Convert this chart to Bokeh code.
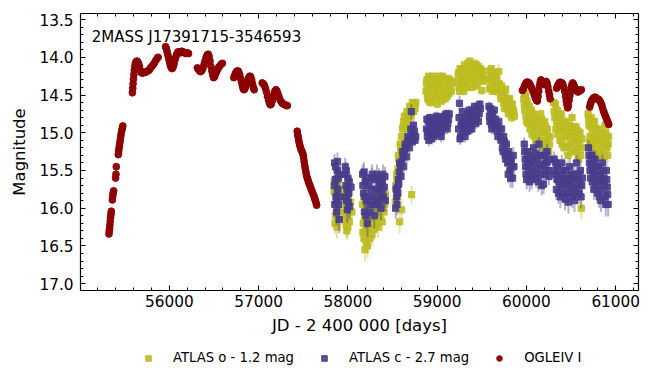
from bokeh.plotting import figure
from bokeh.layouts import column
from bokeh.models import (Range1d, LinearAxis, SingleIntervalTicker, PrintfTickFormatter,
                          Label, Legend, LegendItem, ColumnDataSource)
from bokeh.embed import file_html
from bokeh.resources import INLINE

# ---------------- data ----------------
title_text = "2MASS J17391715-3546593"
series_labels = ["ATLAS o - 1.2 mag", "ATLAS c - 2.7 mag", "OGLEIV I"]
x_label = "JD - 2 400 000 [days]"
y_label = "Magnitude"

# OGLE-IV I band (JD-2400000, mag)
ogle = [
    (55324, 16.34), (55327, 16.30), (55331, 16.27), (55334, 16.22), (55338, 16.17), (55342, 16.12),
    (55346, 16.08), (55350, 16.04), (55362, 15.89), (55366, 15.84), (55371, 15.80), (55376, 15.77),
    (55398, 15.60), (55402, 15.55), (55406, 15.45), (55428, 15.29), (55432, 15.25), (55436, 15.21),
    (55441, 15.17), (55446, 15.13), (55451, 15.09), (55456, 15.05), (55461, 15.01), (55467, 14.97),
    (55473, 14.94), (55479, 14.91),
    (55586, 14.47), (55590, 14.41), (55594, 14.35), (55598, 14.29), (55603, 14.23), (55608, 14.17),
    (55614, 14.12), (55620, 14.08), (55628, 14.06), (55636, 14.05), (55645, 14.06), (55655, 14.08),
    (55665, 14.12), (55675, 14.17), (55685, 14.20), (55700, 14.21), (55715, 14.20), (55730, 14.20),
    (55745, 14.19), (55760, 14.18), (55775, 14.17), (55790, 14.14), (55805, 14.12), (55820, 14.10),
    (55835, 14.07), (55850, 14.04), (55865, 14.01), (55875, 14.00),
    (55958, 13.86), (55965, 13.88), (55972, 13.91), (55980, 13.95), (55988, 13.99), (55996, 14.03),
    (56004, 14.07), (56012, 14.11), (56022, 14.14), (56032, 14.15), (56042, 14.13), (56052, 14.09),
    (56062, 14.04), (56072, 14.00), (56082, 13.96), (56095, 13.93), (56110, 13.93), (56125, 13.94),
    (56140, 13.92), (56155, 13.93), (56170, 13.94), (56185, 13.95), (56200, 13.94), (56215, 13.95),
    (56314, 14.14), (56325, 14.16), (56337, 14.18), (56350, 14.19), (56362, 14.18), (56375, 14.15),
    (56388, 14.10), (56400, 14.05), (56412, 14.00), (56424, 13.97), (56436, 13.96), (56446, 13.99),
    (56456, 14.05), (56466, 14.12), (56476, 14.18), (56486, 14.23), (56496, 14.27), (56506, 14.26),
    (56518, 14.22), (56530, 14.19), (56542, 14.16), (56555, 14.13), (56568, 14.11), (56582, 14.09),
    (56594, 14.08),
    (56722, 14.27), (56732, 14.24), (56742, 14.21), (56752, 14.19), (56764, 14.18), (56776, 14.19),
    (56788, 14.23), (56798, 14.28), (56808, 14.33), (56818, 14.38), (56828, 14.42), (56838, 14.43),
    (56848, 14.41), (56858, 14.38), (56868, 14.34), (56878, 14.30), (56890, 14.27), (56902, 14.25),
    (56912, 14.26), (56922, 14.30), (56932, 14.35), (56942, 14.40), (56950, 14.43),
    (57040, 14.34), (57052, 14.35), (57064, 14.37), (57076, 14.41), (57088, 14.46), (57100, 14.52),
    (57112, 14.57), (57122, 14.61), (57132, 14.63), (57142, 14.62), (57152, 14.58), (57162, 14.53),
    (57172, 14.49), (57182, 14.45), (57194, 14.43), (57206, 14.45), (57218, 14.49), (57230, 14.53),
    (57242, 14.57), (57254, 14.59), (57266, 14.61), (57280, 14.62), (57295, 14.63), (57310, 14.64),
    (57322, 14.64),
    (57432, 14.98), (57437, 15.02), (57442, 15.05), (57448, 15.09), (57454, 15.13), (57460, 15.16),
    (57467, 15.19), (57474, 15.22), (57482, 15.24), (57490, 15.26), (57498, 15.29), (57504, 15.33),
    (57510, 15.38), (57516, 15.43), (57522, 15.47), (57528, 15.51), (57534, 15.55), (57540, 15.58),
    (57548, 15.61), (57556, 15.64), (57564, 15.67), (57572, 15.69), (57580, 15.72), (57590, 15.75),
    (57600, 15.78), (57610, 15.81), (57620, 15.84), (57628, 15.87), (57636, 15.90), (57644, 15.93),
    (57650, 15.96),
    (59955, 14.44), (59965, 14.42), (59978, 14.38), (59991, 14.35), (60004, 14.33), (60016, 14.33),
    (60028, 14.34), (60040, 14.36), (60052, 14.39), (60064, 14.42), (60076, 14.46), (60088, 14.50),
    (60100, 14.54), (60112, 14.57), (60122, 14.58), (60130, 14.52), (60138, 14.45), (60146, 14.38),
    (60154, 14.33), (60162, 14.30), (60170, 14.31), (60180, 14.34), (60190, 14.36), (60200, 14.35),
    (60210, 14.33), (60220, 14.32), (60230, 14.34), (60240, 14.39), (60250, 14.45), (60258, 14.50),
    (60265, 14.55),
    (60338, 14.41), (60348, 14.38), (60358, 14.36), (60368, 14.34), (60378, 14.33), (60388, 14.35),
    (60398, 14.34), (60408, 14.36), (60418, 14.40), (60428, 14.45), (60438, 14.52), (60446, 14.58),
    (60454, 14.63), (60462, 14.67), (60470, 14.64), (60478, 14.57), (60486, 14.51), (60494, 14.46),
    (60502, 14.40), (60510, 14.36), (60518, 14.34), (60528, 14.36), (60538, 14.39), (60548, 14.41),
    (60558, 14.43), (60568, 14.45), (60578, 14.46), (60590, 14.45), (60602, 14.44), (60615, 14.43),
    (60708, 14.66), (60716, 14.62), (60724, 14.59), (60732, 14.57), (60742, 14.55), (60752, 14.54),
    (60762, 14.53), (60772, 14.53), (60782, 14.54), (60792, 14.55), (60802, 14.56), (60812, 14.56),
    (60822, 14.58), (60832, 14.60), (60842, 14.63), (60852, 14.67), (60862, 14.71), (60872, 14.74),
    (60882, 14.77), (60892, 14.80), (60902, 14.83), (60912, 14.86), (60922, 14.89),
]

# ATLAS o (shifted by -1.2 mag): (JD-2400000, mag, error)
atlas_o = [
    (57845, 15.78, 0.10), (57852, 15.95, 0.12), (57860, 16.10, 0.15), (57868, 15.70, 0.08),
    (57875, 16.00, 0.12), (57882, 15.88, 0.10), (57890, 16.15, 0.14), (57898, 15.62, 0.09),
    (57905, 16.05, 0.11), (57915, 15.85, 0.10), (57935, 15.75, 0.08), (57960, 15.90, 0.12),
    (57972, 16.08, 0.13), (57980, 16.22, 0.15), (57988, 16.30, 0.12), (57995, 16.12, 0.10),
    (58005, 15.98, 0.09), (58015, 16.18, 0.14), (58030, 15.92, 0.10), (58045, 16.05, 0.12),
    (57848, 15.65, 0.09), (57856, 16.20, 0.14), (57864, 15.80, 0.10), (57878, 16.25, 0.15),
    (57886, 15.72, 0.09), (57894, 16.00, 0.12), (57965, 16.15, 0.13), (57975, 15.95, 0.11),
    (57984, 16.05, 0.12), (57992, 15.85, 0.10), (58000, 16.25, 0.14), (58010, 15.80, 0.09),
    (58165, 15.95, 0.10), (58172, 16.20, 0.14), (58180, 16.40, 0.16), (58188, 16.05, 0.11),
    (58195, 16.30, 0.13), (58205, 16.45, 0.15), (58215, 16.15, 0.12), (58225, 15.90, 0.09),
    (58240, 16.25, 0.14), (58255, 16.10, 0.11), (58270, 16.35, 0.15), (58285, 15.85, 0.09),
    (58300, 16.00, 0.10), (58315, 16.20, 0.13), (58330, 15.78, 0.08), (58345, 15.95, 0.10),
    (58360, 16.12, 0.12), (58375, 15.70, 0.08), (58390, 15.88, 0.10), (58405, 16.05, 0.12),
    (58420, 15.82, 0.09),
    (58168, 16.32, 0.14), (58176, 15.85, 0.10), (58184, 16.15, 0.13), (58192, 16.55, 0.16),
    (58200, 16.02, 0.11), (58210, 16.30, 0.14), (58220, 16.50, 0.16), (58230, 16.05, 0.12),
    (58248, 16.40, 0.15), (58262, 15.95, 0.10), (58278, 16.15, 0.13), (58292, 16.28, 0.14),
    (58308, 15.92, 0.10), (58322, 16.08, 0.12), (58338, 16.25, 0.14), (58352, 15.85, 0.10),
    (58368, 16.00, 0.12), (58383, 16.18, 0.13), (58398, 15.75, 0.09), (58412, 15.95, 0.11),
    (58530, 15.92, 0.10), (58540, 15.75, 0.09), (58550, 15.62, 0.08), (58560, 15.48, 0.08),
    (58570, 15.35, 0.07), (58580, 16.18, 0.15), (58590, 15.20, 0.07), (58600, 15.05, 0.06),
    (58602, 16.02, 0.14), (58612, 14.95, 0.06), (58625, 14.85, 0.06), (58640, 15.10, 0.07),
    (58655, 14.95, 0.06), (58670, 14.82, 0.05), (58685, 14.75, 0.05), (58700, 14.70, 0.05),
    (58714, 15.82, 0.12), (58730, 14.68, 0.05), (58745, 14.62, 0.05), (58760, 14.60, 0.06),
    (58535, 15.70, 0.09), (58545, 15.55, 0.08), (58555, 15.85, 0.10), (58565, 15.30, 0.07),
    (58575, 15.55, 0.08), (58585, 15.15, 0.07), (58595, 15.40, 0.08), (58608, 15.20, 0.07),
    (58618, 14.92, 0.06), (58632, 14.78, 0.06), (58648, 14.90, 0.06), (58662, 14.72, 0.05),
    (58678, 14.85, 0.06), (58692, 14.65, 0.05), (58708, 14.78, 0.06), (58722, 14.60, 0.05),
    (58738, 14.72, 0.06), (58752, 14.68, 0.06),
    (58875, 14.45, 0.05), (58885, 14.30, 0.04), (58895, 14.55, 0.06), (58905, 14.25, 0.04),
    (58915, 14.40, 0.05), (58925, 14.60, 0.06), (58940, 14.35, 0.05), (58955, 14.50, 0.05),
    (58970, 14.28, 0.04), (58985, 14.45, 0.05), (59000, 14.62, 0.06), (59015, 14.38, 0.05),
    (59030, 14.52, 0.05), (59045, 14.30, 0.04), (59060, 14.25, 0.04), (59075, 14.42, 0.05),
    (59090, 14.55, 0.06), (59105, 14.35, 0.05), (59120, 14.28, 0.04), (59135, 14.48, 0.05),
    (59150, 14.40, 0.05), (59165, 14.32, 0.05),
    (58880, 14.35, 0.05), (58890, 14.50, 0.05), (58900, 14.40, 0.05), (58910, 14.58, 0.06),
    (58920, 14.28, 0.04), (58932, 14.45, 0.05), (58948, 14.25, 0.04), (58962, 14.40, 0.05),
    (58978, 14.55, 0.06), (58992, 14.35, 0.05), (59008, 14.48, 0.05), (59022, 14.25, 0.04),
    (59038, 14.42, 0.05), (59052, 14.58, 0.06), (59068, 14.35, 0.05), (59082, 14.30, 0.05),
    (59098, 14.45, 0.05), (59112, 14.52, 0.05), (59128, 14.38, 0.05), (59142, 14.30, 0.05),
    (59158, 14.45, 0.05),
    (59230, 14.35, 0.05), (59240, 14.20, 0.04), (59250, 14.45, 0.06), (59262, 14.28, 0.05),
    (59275, 14.15, 0.04), (59290, 14.35, 0.05), (59305, 14.10, 0.04), (59320, 14.25, 0.05),
    (59335, 14.40, 0.05), (59350, 14.18, 0.12), (59365, 14.05, 0.04), (59380, 14.30, 0.05),
    (59395, 14.12, 0.04), (59410, 14.22, 0.05), (59425, 14.38, 0.05), (59440, 14.10, 0.04),
    (59455, 14.20, 0.05), (59470, 14.28, 0.05), (59485, 14.15, 0.04), (59500, 14.44, 0.06),
    (59515, 14.25, 0.05),
    (59235, 14.25, 0.05), (59245, 14.40, 0.05), (59256, 14.15, 0.04), (59268, 14.38, 0.05),
    (59282, 14.25, 0.05), (59298, 14.45, 0.06), (59312, 14.18, 0.05), (59328, 14.32, 0.05),
    (59342, 14.08, 0.04), (59358, 14.28, 0.05), (59372, 14.15, 0.04), (59388, 14.40, 0.05),
    (59402, 14.25, 0.05), (59418, 14.08, 0.04), (59432, 14.28, 0.05), (59448, 14.35, 0.05),
    (59462, 14.12, 0.04), (59478, 14.22, 0.05), (59492, 14.30, 0.05), (59508, 14.18, 0.05),
    (59520, 14.32, 0.05),
    (59580, 14.30, 0.05), (59590, 14.18, 0.04), (59600, 14.40, 0.05), (59612, 14.25, 0.05),
    (59625, 14.35, 0.05), (59640, 14.20, 0.04), (59655, 14.45, 0.06), (59670, 14.30, 0.05),
    (59690, 14.19, 0.10), (59700, 14.40, 0.05), (59715, 14.55, 0.06), (59730, 14.45, 0.05),
    (59745, 14.60, 0.06), (59760, 14.50, 0.05), (59775, 14.65, 0.06), (59790, 14.55, 0.05),
    (59805, 14.72, 0.07), (59820, 14.62, 0.06), (59835, 14.80, 0.07), (59850, 14.70, 0.06),
    (59865, 14.78, 0.07),
    (59585, 14.42, 0.05), (59595, 14.28, 0.05), (59606, 14.15, 0.04), (59618, 14.45, 0.05),
    (59632, 14.28, 0.05), (59648, 14.38, 0.05), (59662, 14.22, 0.05), (59678, 14.42, 0.05),
    (59695, 14.35, 0.05), (59708, 14.50, 0.05), (59722, 14.38, 0.05), (59738, 14.52, 0.06),
    (59752, 14.68, 0.06), (59768, 14.42, 0.05), (59782, 14.60, 0.06), (59798, 14.75, 0.07),
    (59812, 14.55, 0.06), (59828, 14.70, 0.06), (59842, 14.62, 0.06), (59858, 14.72, 0.07),
    (59970, 14.55, 0.06), (59980, 14.70, 0.06), (59990, 14.50, 0.05), (60000, 14.85, 0.07),
    (60012, 14.62, 0.06), (60025, 14.78, 0.06), (60040, 14.95, 0.08), (60055, 14.70, 0.06),
    (60070, 14.88, 0.07), (60085, 15.05, 0.08), (60100, 14.80, 0.07), (60115, 14.95, 0.08),
    (60130, 15.15, 0.09), (60145, 14.90, 0.07), (60160, 14.75, 0.06), (60175, 15.00, 0.08),
    (60190, 15.20, 0.09), (60205, 14.85, 0.07), (60220, 15.10, 0.08), (60235, 14.95, 0.07),
    (60250, 15.25, 0.09), (60265, 15.05, 0.08),
    (59975, 14.62, 0.06), (59985, 14.48, 0.05), (59995, 14.78, 0.06), (60005, 14.58, 0.06),
    (60018, 14.88, 0.07), (60032, 14.65, 0.06), (60048, 14.82, 0.07), (60062, 15.02, 0.08),
    (60078, 14.75, 0.07), (60092, 14.92, 0.07), (60108, 15.10, 0.08), (60122, 14.85, 0.07),
    (60138, 15.05, 0.08), (60152, 14.95, 0.08), (60168, 14.82, 0.07), (60182, 15.12, 0.09),
    (60198, 14.98, 0.08), (60212, 14.92, 0.07), (60228, 15.18, 0.09), (60242, 15.05, 0.08),
    (60258, 15.15, 0.09),
    (60305, 14.60, 0.06), (60318, 14.80, 0.07), (60330, 14.95, 0.08), (60345, 14.70, 0.06),
    (60360, 14.88, 0.07), (60375, 15.10, 0.08), (60390, 14.75, 0.06), (60405, 14.95, 0.07),
    (60420, 15.20, 0.09), (60435, 14.85, 0.07), (60450, 15.05, 0.08), (60465, 15.30, 0.10),
    (60480, 14.90, 0.07), (60495, 15.15, 0.08), (60510, 14.80, 0.07), (60525, 15.00, 0.08),
    (60540, 15.25, 0.09), (60555, 14.92, 0.07), (60570, 15.10, 0.08), (60585, 15.35, 0.10),
    (60600, 15.00, 0.08), (60615, 16.00, 0.15), (60630, 15.20, 0.09),
    (60310, 14.72, 0.06), (60324, 14.62, 0.06), (60338, 14.85, 0.07), (60352, 15.02, 0.08),
    (60368, 14.78, 0.07), (60382, 14.95, 0.07), (60398, 15.15, 0.08), (60412, 14.85, 0.07),
    (60428, 15.05, 0.08), (60442, 14.95, 0.07), (60458, 15.18, 0.09), (60472, 15.05, 0.08),
    (60488, 14.98, 0.08), (60502, 15.25, 0.09), (60518, 14.92, 0.07), (60532, 15.12, 0.08),
    (60548, 15.05, 0.08), (60562, 15.22, 0.09), (60578, 14.98, 0.08), (60592, 15.15, 0.09),
    (60608, 15.30, 0.10), (60622, 15.08, 0.09),
    (60690, 14.75, 0.06), (60700, 14.90, 0.07), (60712, 15.05, 0.08), (60725, 14.80, 0.07),
    (60738, 15.00, 0.08), (60750, 15.20, 0.09), (60762, 14.85, 0.07), (60775, 15.05, 0.08),
    (60790, 15.25, 0.09), (60805, 14.95, 0.07), (60820, 15.15, 0.08), (60835, 15.30, 0.10),
    (60850, 15.00, 0.08), (60865, 15.20, 0.09), (60880, 14.90, 0.07), (60895, 15.10, 0.08),
    (60910, 15.30, 0.10), (60920, 15.05, 0.08),
    (60695, 14.82, 0.07), (60706, 15.12, 0.08), (60718, 14.92, 0.07), (60732, 15.15, 0.08),
    (60744, 14.88, 0.07), (60756, 15.08, 0.08), (60770, 15.30, 0.10), (60782, 14.95, 0.07),
    (60798, 15.10, 0.08), (60812, 15.28, 0.10), (60828, 15.05, 0.08), (60842, 15.22, 0.09),
    (60858, 15.10, 0.08), (60872, 15.32, 0.10), (60888, 15.00, 0.08), (60902, 15.20, 0.09),
    (60915, 15.15, 0.09),
]

# ATLAS c (shifted by -2.7 mag): (JD-2400000, mag, error)
atlas_c = [
    (57850, 15.40, 0.12), (57858, 15.62, 0.14), (57866, 15.85, 0.16), (57872, 16.05, 0.18),
    (57880, 15.50, 0.12), (57888, 15.75, 0.15), (57895, 15.95, 0.17), (57903, 16.15, 0.18),
    (57912, 15.55, 0.13), (57970, 15.45, 0.12), (57978, 15.70, 0.14), (57985, 15.90, 0.16),
    (57993, 16.02, 0.17), (58000, 15.60, 0.13), (58010, 15.80, 0.15), (58020, 15.98, 0.16),
    (58035, 15.72, 0.14),
    (57847, 15.70, 0.14), (57855, 15.95, 0.17), (57862, 15.45, 0.12), (57876, 15.90, 0.16),
    (57884, 15.38, 0.12), (57892, 15.60, 0.14), (57900, 15.85, 0.16), (57966, 15.55, 0.13),
    (57974, 15.85, 0.15), (57982, 15.50, 0.12), (57990, 15.75, 0.14), (58005, 15.92, 0.16),
    (58015, 15.65, 0.14),
    (58165, 15.55, 0.13), (58175, 15.80, 0.15), (58185, 16.05, 0.18), (58195, 15.65, 0.14),
    (58208, 15.90, 0.16), (58220, 16.20, 0.18), (58235, 15.70, 0.14), (58250, 15.95, 0.16),
    (58265, 15.60, 0.13), (58280, 15.85, 0.15), (58295, 16.10, 0.17), (58310, 15.75, 0.14),
    (58325, 15.55, 0.13), (58340, 15.95, 0.16), (58355, 15.70, 0.14), (58370, 16.00, 0.16),
    (58385, 15.65, 0.14), (58400, 15.85, 0.15), (58415, 15.58, 0.13),
    (58168, 15.70, 0.14), (58180, 15.52, 0.13), (58190, 15.85, 0.15), (58202, 16.10, 0.17),
    (58214, 15.60, 0.13), (58228, 15.85, 0.15), (58242, 16.05, 0.17), (58258, 15.75, 0.14),
    (58272, 15.55, 0.13), (58288, 15.95, 0.16), (58302, 15.62, 0.13), (58318, 15.90, 0.15),
    (58332, 15.75, 0.14), (58348, 15.60, 0.13), (58362, 15.85, 0.15), (58378, 15.75, 0.14),
    (58392, 15.55, 0.13), (58408, 15.72, 0.14), (58420, 15.90, 0.15),
    (58535, 16.00, 0.14), (58545, 15.85, 0.13), (58555, 15.72, 0.12), (58565, 15.62, 0.11),
    (58575, 15.52, 0.10), (58590, 15.45, 0.10), (58605, 15.38, 0.09), (58620, 15.30, 0.09),
    (58635, 15.25, 0.08), (58650, 15.20, 0.08), (58665, 15.15, 0.08), (58680, 15.10, 0.07),
    (58700, 15.05, 0.07), (58710, 14.72, 0.10), (58725, 15.02, 0.07), (58745, 14.98, 0.07),
    (58760, 15.05, 0.07),
    (58540, 15.75, 0.13), (58550, 15.95, 0.14), (58560, 15.80, 0.12), (58570, 15.68, 0.11),
    (58580, 15.40, 0.10), (58595, 15.58, 0.11), (58610, 15.25, 0.09), (58625, 15.45, 0.10),
    (58642, 15.15, 0.08), (58658, 15.32, 0.09), (58672, 15.05, 0.07), (58690, 15.20, 0.08),
    (58705, 14.95, 0.07), (58718, 15.12, 0.08), (58735, 14.90, 0.07), (58752, 15.10, 0.08),
    (58880, 14.95, 0.07), (58890, 15.05, 0.08), (58900, 14.85, 0.06), (58912, 15.00, 0.07),
    (58925, 14.90, 0.07), (58940, 15.08, 0.08), (58955, 14.95, 0.07), (58970, 14.82, 0.06),
    (58985, 15.00, 0.07), (59000, 14.90, 0.07), (59015, 14.80, 0.06), (59030, 14.95, 0.07),
    (59045, 15.05, 0.08), (59060, 14.85, 0.06), (59075, 14.78, 0.06), (59090, 14.92, 0.07),
    (59105, 14.80, 0.06), (59120, 14.88, 0.07), (59135, 14.75, 0.06),
    (58885, 14.82, 0.06), (58895, 14.98, 0.07), (58906, 15.10, 0.08), (58918, 14.80, 0.06),
    (58932, 14.97, 0.07), (58948, 14.85, 0.06), (58962, 15.05, 0.08), (58978, 14.92, 0.07),
    (58992, 14.78, 0.06), (59008, 15.02, 0.07), (59022, 14.88, 0.07), (59038, 14.82, 0.06),
    (59052, 14.98, 0.07), (59068, 14.92, 0.07), (59082, 14.85, 0.06), (59098, 14.75, 0.06),
    (59112, 14.95, 0.07), (59128, 14.82, 0.06),
    (59240, 14.95, 0.07), (59250, 14.61, 0.10), (59262, 15.05, 0.08), (59275, 14.85, 0.06),
    (59290, 15.00, 0.07), (59305, 14.80, 0.06), (59320, 14.92, 0.07), (59335, 14.75, 0.06),
    (59350, 14.88, 0.07), (59365, 14.95, 0.07), (59380, 14.78, 0.06), (59395, 14.70, 0.06),
    (59410, 14.85, 0.06), (59425, 14.72, 0.06), (59440, 14.80, 0.06), (59455, 14.65, 0.05),
    (59470, 14.75, 0.06), (59485, 14.68, 0.06),
    (59245, 14.80, 0.06), (59256, 15.08, 0.08), (59268, 14.90, 0.07), (59282, 14.72, 0.06),
    (59298, 14.95, 0.07), (59312, 15.05, 0.08), (59328, 14.82, 0.06), (59342, 14.98, 0.07),
    (59358, 14.70, 0.06), (59372, 14.85, 0.06), (59388, 14.95, 0.07), (59402, 14.78, 0.06),
    (59418, 14.65, 0.05), (59432, 14.88, 0.07), (59448, 14.72, 0.06), (59462, 14.85, 0.06),
    (59478, 14.62, 0.05),
    (59580, 14.65, 0.06), (59590, 14.85, 0.07), (59600, 14.72, 0.06), (59612, 14.95, 0.07),
    (59625, 14.80, 0.06), (59640, 14.70, 0.06), (59660, 14.90, 0.07), (59680, 15.05, 0.08),
    (59700, 14.95, 0.07), (59715, 15.10, 0.08), (59730, 15.20, 0.09), (59745, 15.05, 0.08),
    (59760, 15.30, 0.10), (59775, 15.15, 0.09), (59790, 15.40, 0.11), (59800, 15.25, 0.10),
    (59815, 15.50, 0.12), (59830, 15.35, 0.11), (59845, 15.60, 0.13), (59860, 15.45, 0.12),
    (59585, 14.78, 0.06), (59595, 14.68, 0.06), (59606, 14.88, 0.07), (59618, 14.75, 0.06),
    (59632, 14.92, 0.07), (59650, 14.82, 0.06), (59670, 14.98, 0.07), (59690, 14.85, 0.07),
    (59708, 15.05, 0.08), (59722, 14.95, 0.08), (59738, 15.25, 0.09), (59752, 15.12, 0.09),
    (59768, 15.35, 0.10), (59782, 15.28, 0.10), (59795, 15.55, 0.12), (59808, 15.38, 0.11),
    (59822, 15.60, 0.13), (59838, 15.45, 0.12), (59852, 15.30, 0.11),
    (59975, 15.15, 0.09), (59985, 15.35, 0.10), (59995, 15.55, 0.12), (60008, 15.25, 0.10),
    (60020, 15.45, 0.11), (60035, 15.65, 0.13), (60050, 15.30, 0.10), (60065, 15.50, 0.12),
    (60080, 15.20, 0.09), (60095, 15.40, 0.11), (60110, 15.60, 0.13), (60125, 15.35, 0.10),
    (60140, 15.15, 0.09), (60155, 15.45, 0.11), (60170, 15.70, 0.13), (60185, 15.30, 0.10),
    (60200, 15.55, 0.12), (60215, 15.40, 0.11), (60230, 15.25, 0.10), (60245, 15.50, 0.12),
    (60260, 15.35, 0.10),
    (59980, 15.25, 0.10), (59990, 15.45, 0.11), (60002, 15.62, 0.13), (60014, 15.35, 0.10),
    (60028, 15.55, 0.12), (60042, 15.40, 0.11), (60058, 15.62, 0.13), (60072, 15.35, 0.10),
    (60088, 15.55, 0.12), (60102, 15.28, 0.10), (60118, 15.48, 0.11), (60132, 15.65, 0.13),
    (60148, 15.30, 0.10), (60162, 15.55, 0.12), (60178, 15.42, 0.11), (60192, 15.68, 0.13),
    (60208, 15.30, 0.10), (60222, 15.50, 0.12), (60238, 15.38, 0.11), (60252, 15.58, 0.12),
    (60310, 15.35, 0.10), (60322, 15.55, 0.12), (60335, 15.75, 0.14), (60350, 15.45, 0.11),
    (60365, 15.65, 0.13), (60380, 15.85, 0.15), (60395, 15.40, 0.11), (60410, 15.60, 0.12),
    (60425, 15.80, 0.14), (60440, 15.50, 0.12), (60455, 15.70, 0.13), (60470, 15.92, 0.15),
    (60485, 15.45, 0.11), (60500, 15.65, 0.13), (60515, 15.85, 0.15), (60530, 15.55, 0.12),
    (60545, 15.75, 0.14), (60560, 15.40, 0.11), (60575, 15.62, 0.13), (60590, 15.80, 0.14),
    (60605, 15.50, 0.12), (60620, 15.70, 0.13),
    (60315, 15.50, 0.12), (60328, 15.40, 0.11), (60342, 15.62, 0.13), (60358, 15.80, 0.14),
    (60372, 15.55, 0.12), (60388, 15.72, 0.14), (60402, 15.50, 0.12), (60418, 15.68, 0.13),
    (60432, 15.88, 0.15), (60448, 15.60, 0.12), (60462, 15.80, 0.14), (60478, 15.60, 0.12),
    (60492, 15.78, 0.14), (60508, 15.55, 0.12), (60522, 15.72, 0.14), (60538, 15.90, 0.15),
    (60552, 15.62, 0.13), (60568, 15.80, 0.14), (60582, 15.55, 0.12), (60598, 15.68, 0.13),
    (60612, 15.85, 0.15), (60628, 15.60, 0.13),
    (60695, 15.20, 0.10), (60705, 15.40, 0.11), (60718, 15.60, 0.13), (60730, 15.30, 0.10),
    (60742, 15.50, 0.12), (60755, 15.75, 0.14), (60768, 15.35, 0.11), (60780, 15.55, 0.12),
    (60795, 15.80, 0.14), (60808, 15.45, 0.11), (60822, 15.65, 0.13), (60835, 15.90, 0.15),
    (60850, 15.40, 0.11), (60865, 15.60, 0.13), (60880, 15.85, 0.15), (60895, 15.50, 0.12),
    (60905, 15.72, 0.14), (60915, 15.95, 0.16),
    (60700, 15.30, 0.10), (60712, 15.50, 0.12), (60724, 15.42, 0.11), (60736, 15.65, 0.13),
    (60748, 15.35, 0.11), (60762, 15.55, 0.12), (60774, 15.70, 0.13), (60788, 15.45, 0.11),
    (60802, 15.65, 0.13), (60815, 15.85, 0.15), (60828, 15.55, 0.12), (60842, 15.75, 0.14),
    (60858, 15.50, 0.12), (60872, 15.70, 0.13), (60888, 15.95, 0.16), (60900, 15.62, 0.13),
    (60910, 15.82, 0.15),
]

color_o = "#bcbd22"
color_c = "#483d8b"
color_ogle = "#8b0000"
FONT = "DejaVu Sans"


def err_source(rows):
    jd = [r[0] for r in rows]
    mag = [r[1] for r in rows]
    lo = [r[1] - r[2] for r in rows]
    hi = [r[1] + r[2] for r in rows]
    return ColumnDataSource(dict(jd=jd, mag=mag, lo=lo, hi=hi))


p = figure(width=653, height=340, output_backend="svg", toolbar_location=None,
           x_range=Range1d(55005, 61255), y_range=Range1d(17.09, 13.42),
           min_border_left=80, min_border_right=15, min_border_top=13, min_border_bottom=50,
           x_axis_label=x_label, y_axis_label=y_label)
p.xgrid.visible = False
p.ygrid.visible = False
p.outline_line_color = "black"
p.outline_line_width = 1.1
p.background_fill_color = "white"
p.border_fill_color = "white"

bottom_axis = p.below[0]
left_axis = p.left[0]

xt = SingleIntervalTicker(interval=1000, num_minor_ticks=5)
yt = SingleIntervalTicker(interval=0.5, num_minor_ticks=5)
bottom_axis.ticker = xt
left_axis.ticker = yt
bottom_axis.formatter = PrintfTickFormatter(format="%d")
left_axis.formatter = PrintfTickFormatter(format="%.1f")

# mirrored tick marks on top and right (no labels drawn)
top_axis = LinearAxis(ticker=xt, major_label_text_font_size="0px", major_label_standoff=0,
                      major_label_text_color=None)
right_axis = LinearAxis(ticker=yt, major_label_text_font_size="0px", major_label_standoff=0,
                        major_label_text_color=None)
p.add_layout(top_axis, "above")
p.add_layout(right_axis, "right")

for ax in [bottom_axis, left_axis, top_axis, right_axis]:
    ax.major_tick_in = 5
    ax.major_tick_out = 0
    ax.minor_tick_in = 3
    ax.minor_tick_out = 0
    ax.axis_line_width = 1.1
    ax.major_tick_line_width = 1.1
    ax.minor_tick_line_width = 1.0
    ax.axis_line_color = "black"
    ax.major_tick_line_color = "black"
    ax.minor_tick_line_color = "black"

for ax in [bottom_axis, left_axis]:
    ax.major_label_text_font = FONT
    ax.major_label_text_font_size = "15.3px"
    ax.major_label_text_color = "black"
    ax.axis_label_text_font = FONT
    ax.axis_label_text_font_size = "16.5px"
    ax.axis_label_text_font_style = "normal"
    ax.axis_label_text_color = "black"
bottom_axis.major_label_standoff = 4
bottom_axis.axis_label_standoff = 6
left_axis.major_label_standoff = 7
left_axis.axis_label_standoff = 7

src_o = err_source(atlas_o)
src_c = err_source(atlas_c)
src_ogle = ColumnDataSource(dict(jd=[r[0] for r in ogle], mag=[r[1] for r in ogle]))

p.segment(x0="jd", y0="lo", x1="jd", y1="hi", source=src_o, line_color=color_o, line_alpha=0.4, line_width=2)
p.scatter("jd", "mag", source=src_o, marker="square", size=6.2, fill_color=color_o,
          line_color=color_o, alpha=0.9)
p.segment(x0="jd", y0="lo", x1="jd", y1="hi", source=src_c, line_color=color_c, line_alpha=0.4, line_width=2)
p.scatter("jd", "mag", source=src_c, marker="square", size=6.2, fill_color=color_c,
          line_color=color_c, alpha=0.9)
p.scatter("jd", "mag", source=src_ogle, marker="circle", size=6.8, fill_color=color_ogle,
          line_color=color_ogle, alpha=0.95)

p.add_layout(Label(x=55130, y=13.735, text=title_text, text_font=FONT, text_font_size="15px",
                   text_color="black", text_baseline="alphabetic", text_align="left"))

# ---- legend strip below the plot (series drawn out of view; only the legend shows) ----
lf = figure(width=653, height=42, output_backend="svg", toolbar_location=None,
            x_axis_type=None, y_axis_type=None, x_range=Range1d(0, 1), y_range=Range1d(0, 1),
            min_border=0, min_border_left=0, min_border_right=0, min_border_top=0,
            min_border_bottom=0)
lf.xgrid.visible = False
lf.ygrid.visible = False
lf.outline_line_color = None
lf.border_fill_color = "white"
lf.background_fill_color = "white"
l_o = lf.scatter("jd", "mag", source=src_o, marker="square", size=6,
                 fill_color=color_o, line_color=color_o, alpha=0.9)
l_c = lf.scatter("jd", "mag", source=src_c, marker="square", size=6,
                 fill_color=color_c, line_color=color_c, alpha=0.9)
l_g = lf.scatter("jd", "mag", source=src_ogle, marker="circle", size=6,
                 fill_color=color_ogle, line_color=color_ogle, alpha=0.95)
legend = Legend(items=[LegendItem(label=series_labels[0], renderers=[l_o]),
                       LegendItem(label=series_labels[1], renderers=[l_c]),
                       LegendItem(label=series_labels[2], renderers=[l_g])],
                orientation="horizontal", location=(54, 13),
                glyph_width=20, glyph_height=14, label_standoff=15, spacing=20,
                label_text_font=FONT, label_text_font_size="13.2px", label_text_color="black",
                border_line_alpha=0, background_fill_alpha=0, padding=4, margin=0)
lf.add_layout(legend, "center")

layout = column(p, lf, spacing=0)
open("out.html", "w").write(file_html(layout, INLINE))
